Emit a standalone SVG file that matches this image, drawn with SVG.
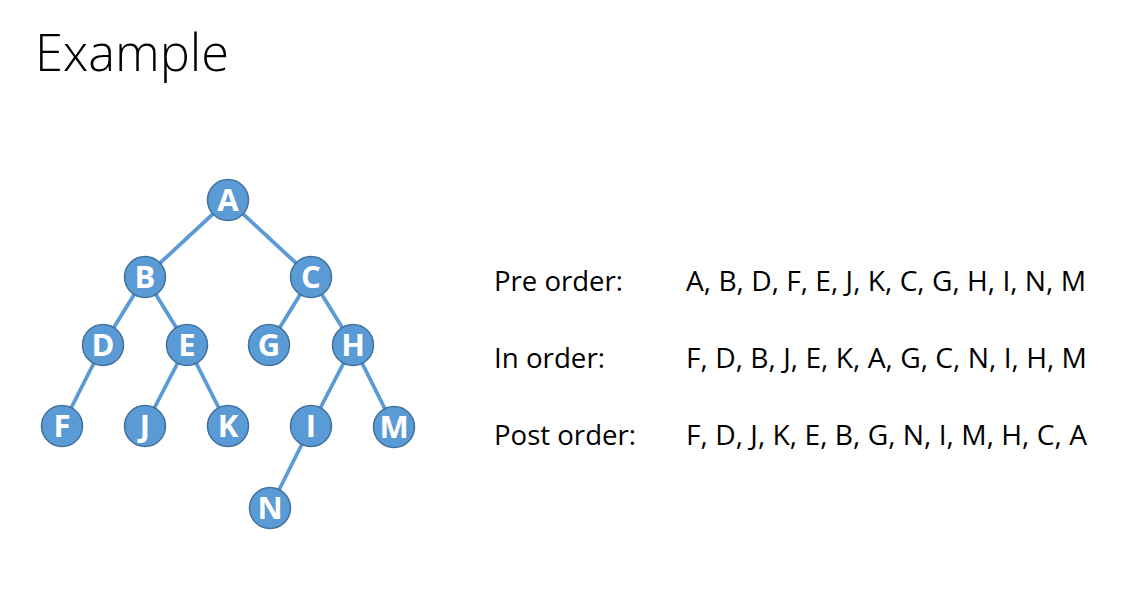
<svg xmlns="http://www.w3.org/2000/svg" width="1148" height="596" viewBox="0 0 1148 596">
<style>
.edge{stroke:#5B9BD5;stroke-width:3.8;fill:none}
.node circle{fill:#5B9BD5;stroke:#41719C;stroke-width:1.5}
.node text{fill:#fff;font-family:"Open Sans","Liberation Sans",sans-serif;font-weight:700;font-size:31px;text-anchor:middle}
.lbl{font-family:"Open Sans","Liberation Sans",sans-serif;font-size:27.5px;fill:#000}
</style>
<rect width="1148" height="596" fill="#fff"/>
<text x="35" y="71" font-family="Open Sans, Liberation Sans, sans-serif" font-weight="300" font-size="52" fill="#000" textLength="194" lengthAdjust="spacingAndGlyphs">Example</text>
<g id="connectors">
<line class="edge" x1="228" y1="200" x2="145" y2="277"/>
<line class="edge" x1="228" y1="200" x2="311" y2="277"/>
<line class="edge" x1="145" y1="277" x2="103" y2="345"/>
<line class="edge" x1="145" y1="277" x2="187" y2="345"/>
<line class="edge" x1="311" y1="277" x2="269" y2="345"/>
<line class="edge" x1="311" y1="277" x2="353" y2="345"/>
<line class="edge" x1="103" y1="345" x2="62" y2="426"/>
<line class="edge" x1="187" y1="345" x2="145" y2="426"/>
<line class="edge" x1="187" y1="345" x2="228" y2="426"/>
<line class="edge" x1="353" y1="345" x2="311" y2="426"/>
<line class="edge" x1="353" y1="345" x2="394" y2="427"/>
<line class="edge" x1="311" y1="426" x2="270" y2="508"/>
</g>
<g id="node-A" class="node"><circle cx="228" cy="200" r="20.5"/><text x="228" y="211">A</text></g>
<g id="node-B" class="node"><circle cx="145" cy="277" r="20.5"/><text x="145" y="288">B</text></g>
<g id="node-C" class="node"><circle cx="311" cy="277" r="20.5"/><text x="311" y="288">C</text></g>
<g id="node-D" class="node"><circle cx="103" cy="345" r="20.5"/><text x="103" y="356">D</text></g>
<g id="node-E" class="node"><circle cx="187" cy="345" r="20.5"/><text x="187" y="356">E</text></g>
<g id="node-G" class="node"><circle cx="269" cy="345" r="20.5"/><text x="269" y="356">G</text></g>
<g id="node-H" class="node"><circle cx="353" cy="345" r="20.5"/><text x="353" y="356">H</text></g>
<g id="node-F" class="node"><circle cx="62" cy="426" r="20.5"/><text x="62" y="437">F</text></g>
<g id="node-J" class="node"><circle cx="145" cy="426" r="20.5"/><text x="145" y="437">J</text></g>
<g id="node-K" class="node"><circle cx="228" cy="426" r="20.5"/><text x="228" y="437">K</text></g>
<g id="node-I" class="node"><circle cx="311" cy="426" r="20.5"/><text x="311" y="437">I</text></g>
<g id="node-M" class="node"><circle cx="394" cy="427" r="20.5"/><text x="394" y="438">M</text></g>
<g id="node-N" class="node"><circle cx="270" cy="508" r="20.5"/><text x="270" y="519">N</text></g>
<g id="traversals">
<text class="lbl" x="494" y="291" textLength="129" lengthAdjust="spacingAndGlyphs">Pre order:</text>
<text class="lbl" x="686" y="291" textLength="400" lengthAdjust="spacingAndGlyphs">A, B, D, F, E, J, K, C, G, H, I, N, M</text>
<text class="lbl" x="494" y="368" textLength="111" lengthAdjust="spacingAndGlyphs">In order:</text>
<text class="lbl" x="686" y="368" textLength="401" lengthAdjust="spacingAndGlyphs">F, D, B, J, E, K, A, G, C, N, I, H, M</text>
<text class="lbl" x="494" y="445" textLength="142" lengthAdjust="spacingAndGlyphs">Post order:</text>
<text class="lbl" x="686" y="445" textLength="401" lengthAdjust="spacingAndGlyphs">F, D, J, K, E, B, G, N, I, M, H, C, A</text>
</g>
</svg>
